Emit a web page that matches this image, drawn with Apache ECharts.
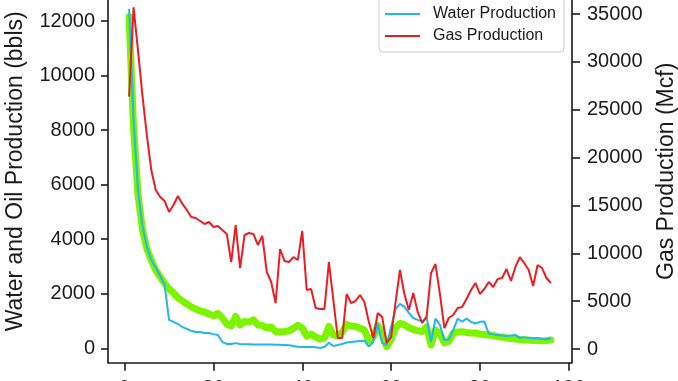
<!DOCTYPE html>
<html>
<head>
<meta charset="utf-8">
<script src="https://cdn.jsdelivr.net/npm/echarts@6/dist/echarts.min.js"></script>
<style>
html,body{margin:0;padding:0;background:#fff;}
#chart{width:678px;height:381px;}
</style>
</head>
<body>
<div id="chart"></div>
<script>
// Month index (x values)
const months = [1,2,3,4,5,6,7,8,9,10,11,12,13,14,15,16,17,18,19,20,21,22,23,24,25,26,27,28,29,30,31,32,33,34,35,36,37,38,39,40,41,42,43,44,45,46,47,48,49,50,51,52,53,54,55,56,57,58,59,60,61,62,63,64,65,66,67,68,69,70,71,72,73,74,75,76,77,78,79,80,81,82,83,84,85,86,87,88,89,90,91,92,93,94,95,96];

// Water production (bbls)
const waterProduction = [12450,8380,5810,4490,3720,3240,2950,2650,2320,1040,
  970,890,780,710,640,600,600,560,560,520,
  490,230,160,160,190,160,150,150,140,140,
  140,140,140,130,130,120,110,85,60,50,
  50,50,40,10,50,200,85,120,160,210,
  230,250,270,280,60,240,890,195,120,780,
  1440,1630,1530,1300,1110,1040,980,1150,240,1090,
  860,300,320,670,1090,980,1090,970,910,970,
  980,540,510,490,470,450,470,490,380,410,
  380,370,380,340,330,370];

// Oil production (bbls)
const oilProduction = [12160,8100,5650,4350,3650,3230,2870,2620,2380,2180,
  2030,1850,1740,1630,1520,1440,1370,1330,1260,1190,
  1280,1110,890,820,1170,855,980,960,1040,855,
  840,745,780,610,610,610,640,730,840,745,
  450,525,415,340,380,800,490,450,600,870,
  820,800,730,670,270,415,840,525,60,320,
  745,910,870,760,690,650,615,780,120,670,
  525,195,250,560,600,610,580,560,560,525,
  505,490,470,425,415,380,360,340,320,305,
  305,285,285,280,280,305];

// Gas production (Mcf)
const gasProduction = [26370,35700,31250,26540,22360,18700,16620,15880,15470,14320,
  15050,15990,15160,14530,13790,13690,13380,13060,13270,12750,
  12850,12430,12020,9090,12960,8460,11910,12120,12020,10870,
  11810,8050,7000,4810,10450,9200,9090,9610,9300,12330,
  6170,6270,4280,4180,4180,9090,5120,1150,1150,5750,
  4810,5020,5640,4910,2820,1150,3760,3340,630,1250,
  4810,8260,5750,4080,5850,3870,2720,3340,7940,8880,
  5750,2190,3240,3550,4280,4390,5230,6170,6900,5750,
  6270,7000,6480,7320,7420,8360,7110,8570,9610,8990,
  8260,6580,8780,8460,7420,6900];

// Tick labels
const xTicks = [0,20,40,60,80,100];
const leftTicks = [0,2000,4000,6000,8000,10000,12000];
const rightTicks = [0,5000,10000,15000,20000,25000,30000,35000];

const seriesNames = ['Oil Production','Water Production','Gas Production'];

const FONT = 'Liberation Sans, Arial, sans-serif';
const AX = '#1a1a1a';
const LINE_ICON = 'path://M0,0 L35,0 L35,2 L0,2 Z';

const chart = echarts.init(document.getElementById('chart'), null, {renderer:'canvas'});

function pairs(vals){ return months.map((m,i)=>[m, vals[i]]); }

chart.setOption({
  animation:false,
  backgroundColor:'#ffffff',
  textStyle:{fontFamily:FONT},
  grid:{left:108, right:106, top:-20, bottom:18.3, containLabel:false, outerBoundsMode:'none'},
  legend:{
    data:seriesNames.map(n=>({name:n, icon:LINE_ICON})),
    orient:'vertical',
    right:114,
    top:-24,
    itemWidth:35,
    itemHeight:16,
    itemGap:6,
    symbolKeepAspect:true,
    padding:[8,8,8,6],
    borderColor:'#cccccc',
    borderWidth:1,
    borderRadius:4,
    backgroundColor:'rgba(255,255,255,0.85)',
    textStyle:{fontSize:16, color:'#1a1a1a', fontFamily:FONT, padding:[0,0,0,8]}
  },
  xAxis:{
    type:'value',
    min:-3.75, max:100.75,
    axisLine:{show:true, onZero:false, lineStyle:{color:AX, width:1.6}},
    axisTick:{show:true, length:8, lineStyle:{color:AX, width:1.6}, customValues:xTicks},
    axisLabel:{fontSize:20, color:AX, margin:16, customValues:xTicks, formatter:v=>String(v), fontFamily:FONT},
    splitLine:{show:false}
  },
  yAxis:[
    {
      type:'value',
      position:'left',
      min:-528, max:13503,
      name:'Water and Oil Production (bbls)',
      nameLocation:'middle',
      nameGap:81,
      nameTextStyle:{fontSize:23, color:AX, fontFamily:FONT},
      axisLine:{show:true, onZero:false, lineStyle:{color:AX, width:1.6}},
      axisTick:{show:true, length:7, lineStyle:{color:AX, width:1.6}, customValues:leftTicks},
      axisLabel:{fontSize:20, color:AX, margin:13, customValues:leftTicks, formatter:v=>String(v), fontFamily:FONT},
      splitLine:{show:false}
    },
    {
      type:'value',
      position:'right',
      min:-1431, max:38560,
      name:'Gas Production (Mcf)',
      nameLocation:'middle',
      nameGap:83,
      nameTextStyle:{fontSize:23, color:AX, fontFamily:FONT},
      axisLine:{show:true, onZero:false, lineStyle:{color:AX, width:1.6}},
      axisTick:{show:true, length:8, lineStyle:{color:AX, width:1.6}, customValues:rightTicks},
      axisLabel:{fontSize:20, color:AX, margin:15, customValues:rightTicks, formatter:v=>String(v), fontFamily:FONT},
      splitLine:{show:false}
    }
  ],
  series:[
    {
      name:seriesNames[0], type:'line', yAxisIndex:0, z:2,
      data:pairs(oilProduction), symbol:'none', showSymbol:false,
      lineStyle:{color:'#7cf400', width:7, join:'round', cap:'round'},
      itemStyle:{color:'#7cf400'}
    },
    {
      name:seriesNames[1], type:'line', yAxisIndex:0, z:3,
      data:pairs(waterProduction), symbol:'none', showSymbol:false,
      lineStyle:{color:'#22b6ea', width:2},
      itemStyle:{color:'#22b6ea'}
    },
    {
      name:seriesNames[2], type:'line', yAxisIndex:1, z:4,
      data:pairs(gasProduction), symbol:'none', showSymbol:false,
      lineStyle:{color:'#ec1c24', width:2},
      itemStyle:{color:'#ec1c24'}
    }
  ]
});
</script>
</body>
</html>
